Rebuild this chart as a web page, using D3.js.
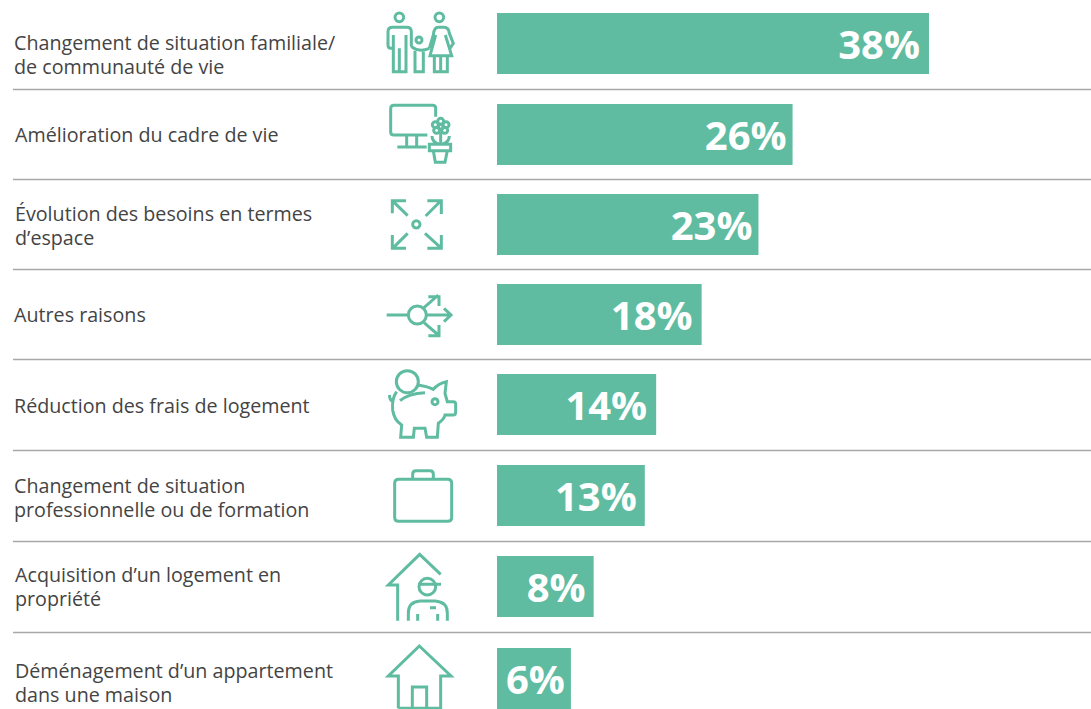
<!DOCTYPE html>
<html>
<head>
<meta charset="utf-8">
<script src="https://cdn.jsdelivr.net/npm/d3@7"></script>
<style>
html, body { margin: 0; background: #fff; overflow: hidden; }
text { font-family: "Open Sans", "Noto Sans", sans-serif; }
</style>
</head>
<body>
<div id="chart"></div>
<script>
const width = 1091;
const height = 709;

const GREEN = "#5fbca1";
const BAR_HEIGHT = 61;

// libellés, une ligne par entrée
const categories = [
    ["Changement de situation familiale/", "de communauté de vie"],
    ["Amélioration du cadre de vie"],
    ["Évolution des besoins en termes", "d’espace"],
    ["Autres raisons"],
    ["Réduction des frais de logement"],
    ["Changement de situation", "professionnelle ou de formation"],
    ["Acquisition d’un logement en", "propriété"],
    ["Déménagement d’un appartement", "dans une maison"]
];
const barValues = [38, 26, 23, 18, 14, 13, 8.5, 6.5];
const valueLabels = ["38%", "26%", "23%", "18%", "14%", "13%", "8%", "6%"];

// réglages de mise en page
const valueInset = [9, 6, 6, 9, 9, 8, 8, 6];
const labelX = [14, 15, 15, 14, 14, 14, 15, 15];
const labelBaseline = [50, 142, 221, 322, 413, 493, 582, 678];
const ruleY = [89.5, 179.5, 269.5, 359.5, 450.5, 541.5, 632.5];

// pictos dessinés à l'échelle 3x, origine x=370 et y=iconTop
const iconTop = [0, 0, 180, 180, 360, 360, 535, 535];
const icons = [
    `M70,105 V215 H88 V145 M88,215 H108 V105
     M70,145 H62 Q54,145 54,135 V95 Q54,82 68,82 H110 Q124,82 124,95 V140
     M124,140 Q147,158 178,145
     M135,152 V215 H160 V152
     M178,145 L190,105 Q192,82 205,82 H222 Q236,82 238,100 L250,130 L240,145
     M197,105 L180,167 H245 L226,105
     M193,167 V215 H232 V167 M212,167 V215`,
    `M197,350 V325 Q197,316 188,316 H72 Q62,316 62,326 V395 Q62,405 72,405 H172
     M110,405 V440 M140,405 V440 M82,441 H170
     M212,397 V432 M186,408 Q186,426 206,432 M238,408 Q238,426 218,432
     M178,433 H242 V452 H178 Z M190,452 L196,487 H225 L232,452`,
    `M113,107 L70,65 M67,100 V62 H108
     M167,108 L212,63 M172,62 H214 V102
     M113,160 L70,203 M67,165 V205 H108
     M165,160 L212,203 M214,165 V205 H172`,
    `M50,405 H115 M170,405 H243 M222,385 L243,405 L222,425
     M162,383 L205,345 M175,350 H207 V378
     M162,428 L205,465 M207,435 V467 H175`,
    `M58,105 Q60,125 72,125 M90,122 Q115,100 165,98
     M80,95 Q65,115 68,150 Q72,180 95,195 L92,232 H130 L133,205 H165 L170,232 H202 L205,190
     Q222,178 225,165 H250 Q257,165 257,155 V132 Q257,125 250,125 H232 L225,100 L229,65
     Q205,70 190,88 Q170,78 142,75`,
    `M86,358 H233 Q245,358 245,370 V472 Q245,484 233,484 H86 Q74,484 74,472 V370 Q74,358 86,358 Z
     M128,358 V342 Q128,332 138,332 H180 Q190,332 190,342 V358`,
    `M212,118 L149,58 L55,150 H83 V257
     M148,148 H213
     M115,257 V235 Q115,200 150,198 H195 Q232,200 232,235 V257
     M143,237 V257 M203,237 V257 M180,218 H198`,
    `M85,520 V423 H55 L148,333 L243,423 H212 V520 H85
     M127,520 V456 H170 V520`
];
// cercles des pictos : [index du picto, cx, cy, r]
const iconCircles = [
    [0, 88, 52, 13], [0, 208, 52, 13], [0, 147, 120, 9],
    [1, 212, 380, 7], [1, 212, 364, 9], [1, 228, 374, 9], [1, 224, 391, 9], [1, 200, 391, 9], [1, 196, 374, 9],
    [2, 139, 133, 11],
    [3, 142, 405, 27],
    [4, 112, 65, 33], [4, 195, 125, 9],
    [6, 172, 155, 25]
];

const svg = d3.select("#chart")
    .append("svg")
    .attr("width", width)
    .attr("height", height)
    .style("display", "block");

const rows = categories.map((d, i) => i);

const x = d3.scaleLinear().domain([0, 38]).range([497, 929]);
// l'espacement des lignes n'est pas tout à fait régulier dans l'original
const y = d3.scaleLinear().domain([0, 1, 4, 7]).range([13, 104, 374, 648]);
const rowTop = d => Math.floor(y(d));

// lignes de séparation
svg.append("g").selectAll("line")
    .data(ruleY)
    .join("line")
    .attr("x1", 13)
    .attr("x2", width)
    .attr("y1", d => d)
    .attr("y2", d => d)
    .attr("stroke", "#a8a8a8")
    .attr("stroke-width", 1.5);

svg.append("g").selectAll("rect")
    .data(rows)
    .join("rect")
    .attr("x", x(0))
    .attr("y", rowTop)
    .attr("width", d => x(barValues[d]) - x(0))
    .attr("height", BAR_HEIGHT)
    .attr("fill", GREEN);

svg.append("g").selectAll("text")
    .data(rows)
    .join("text")
    .attr("x", d => x(barValues[d]) - valueInset[d])
    .attr("y", d => rowTop(d) + 46)
    .attr("text-anchor", "end")
    .attr("fill", "#fff")
    .attr("font-size", 40)
    .attr("font-weight", 700)
    .text(d => valueLabels[d]);

const labels = svg.append("g").selectAll("text")
    .data(rows)
    .join("text")
    .attr("fill", "#444444")
    .attr("font-size", 19.7);

labels.selectAll("tspan")
    .data(d => categories[d].map((line, k) => ({line, k, row: d})))
    .join("tspan")
    .attr("x", d => labelX[d.row])
    .attr("y", d => labelBaseline[d.row] + d.k * 24)
    .text(d => d.line);

const iconGroups = svg.append("g").selectAll("g")
    .data(rows)
    .join("g")
    .attr("transform", d => `translate(370,${iconTop[d]}) scale(${1 / 3})`)
    .attr("fill", "none")
    .attr("stroke", GREEN)
    .attr("stroke-width", 9);

iconGroups.append("path").attr("d", d => icons[d]);

iconGroups.selectAll("circle")
    .data(d => iconCircles.filter(c => c[0] === d))
    .join("circle")
    .attr("cx", d => d[1])
    .attr("cy", d => d[2])
    .attr("r", d => d[3]);
</script>
</body>
</html>
